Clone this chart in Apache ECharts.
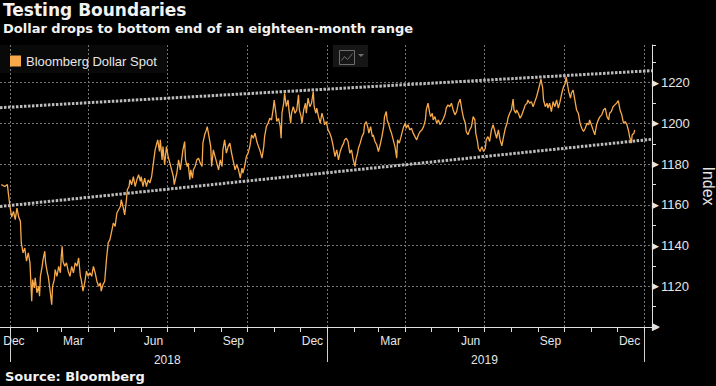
<!DOCTYPE html>
<html>
<head>
<meta charset="utf-8">
<script src="https://cdn.jsdelivr.net/npm/echarts@6/dist/echarts.min.js"></script>
<style>
html,body{margin:0;padding:0;background:#000;}
#c{width:716px;height:386px;}
</style>
</head>
<body>
<div id="c"></div>
<script>
// ---------------- data ----------------
const titleText = 'Testing Boundaries';
const subtitleText = 'Dollar drops to bottom end of an eighteen-month range';
const sourceText = 'Source: Bloomberg';
const seriesName = 'Bloomberg Dollar Spot';
const axisName = 'Index';

// observation dates, as days counted from 2018-01-01
const days = [
  -10,-6,-3,-2,0,2,4,6,8,10,
  12,13,15,17,19,21,23,25,26,28,
  29,31,33,34,35,37,38,40,41,43,
  44,46,48,49,51,52,54,56,58,59,
  60,61,63,65,67,69,71,73,75,77,
  79,81,82,84,86,88,90,92,94,96,
  98,100,102,104,105,107,109,111,113,115,
  117,119,121,123,125,127,128,130,132,134,
  135,137,138,140,142,144,146,148,150,151,
  153,155,157,159,161,163,165,167,169,170,
  172,173,175,176,178,180,182,
  184,186,188,189,191,192,194,196,198,199,
  201,202,204,205,207,208,210,211,213,215,
  217,219,221,222,224,226,227,229,231,232,
  234,236,238,240,242,244,245,247,249,251,
  253,255,257,259,261,263,265,267,268,270,
  272,274,276,278,280,282,284,286,288,290,
  292,293,295,297,299,301,303,304,306,307,
  309,311,312,313,315,316,318,320,321,323,
  324,326,328,330,332,333,335,336,338,340,
  341,343,345,347,349,350,352,353,355,357,
  359,361,362,364,366,368,370,
  372,374,376,378,380,382,384,385,387,389,
  391,393,395,397,398,400,401,403,405,407,
  408,410,412,413,415,417,418,420,422,424,
  426,428,430,431,433,434,436,437,439,441,
  443,445,446,448,450,451,453,455,456,458,
  460,462,464,466,468,470,472,474,476,478,
  479,481,483,484,486,487,489,491,493,495,
  497,499,501,502,504,506,508,510,512,514,
  516,518,520,522,524,525,527,529,531,533,
  535,536,538,539,541,543,545,547,548,550,
  552,554,556,
  558,560,562,564,566,568,570,572,573,575,
  577,579,580,582,583,585,587,589,591,593,
  595,596,598,600,602,604,606,608,610,611,
  613,614,616,618,619,621,623,625,627,629,
  631,633,635,637,639,640,642,643,645,646,
  648,650,652,654,656,658,660,662,664,666,
  667,669,671,673,675,677,679,681,683,685,
  687,689,690,692,694,696,698,700,702,704,
  706,708,710,712,713,715,716,718,719
];
// Bloomberg Dollar Spot Index level at each date
const values = [
  1169.9,1169.0,1170.0,1166.0,1159.0,1154.0,1156.8,1152.7,1158.4,1154.0,
  1151.9,1141.3,1136.4,1138.8,1132.3,1136.4,1131.5,1112.6,1123.3,1119.2,
  1124.1,1116.8,1120.0,1115.1,1124.9,1129.8,1133.1,1137.2,1131.5,1126.6,
  1124.9,1118.4,1111.0,1120.0,1123.3,1128.2,1124.9,1129.8,1126.6,1134.7,
  1139.6,1132.3,1129.8,1131.5,1127.4,1124.9,1129.8,1126.6,1131.5,1129.8,
  1133.9,1124.9,1123.3,1117.6,1121.7,1127.4,1124.9,1126.6,1124.9,1129.8,
  1126.6,1122.5,1120.0,1121.7,1117.6,1120.8,1122.5,1133.1,1141.3,1142.9,
  1147.0,1151.1,1149.4,1156.0,1157.6,1159.2,1162.5,1159.2,1155.1,1162.5,
  1167.4,1169.0,1172.3,1169.9,1173.9,1169.0,1172.3,1174.8,1171.5,1173.9,
  1169.0,1173.1,1169.0,1172.3,1170.7,1173.9,1180.5,1187.0,1190.3,1191.9,
  1186.2,1191.9,1182.1,1188.6,1179.7,1188.6,1183.7,
  1180.5,1177.2,1173.9,1169.9,1173.9,1175.6,1182.1,1177.2,1183.7,1187.0,
  1191.1,1182.1,1178.8,1180.5,1172.3,1177.2,1173.1,1177.2,1178.8,1182.1,
  1182.9,1180.5,1178.8,1190.3,1194.4,1196.8,1198.4,1193.5,1188.6,1178.8,
  1187.0,1183.7,1180.5,1177.2,1182.1,1178.8,1187.0,1191.9,1185.4,1188.6,
  1190.3,1185.4,1181.3,1177.2,1179.7,1177.2,1173.1,1178.0,1175.6,1178.8,
  1183.7,1185.4,1188.6,1194.4,1192.7,1195.2,1191.1,1188.6,1186.2,1182.9,
  1188.6,1193.5,1198.4,1200.1,1202.5,1201.7,1207.5,1211.5,1205.0,1200.9,
  1202.5,1198.4,1192.7,1205.0,1209.9,1214.8,1208.2,1211.5,1206.6,1200.1,
  1205.0,1208.2,1205.0,1206.6,1214.0,1206.6,1203.3,1200.1,1206.6,1209.9,
  1205.0,1212.4,1208.2,1209.9,1215.6,1208.2,1205.0,1207.5,1203.3,1200.1,
  1205.0,1201.7,1199.3,1200.9,1196.8,1195.2,1192.7,
  1188.6,1183.7,1187.0,1182.1,1186.2,1188.6,1190.3,1191.9,1192.7,1191.1,
  1185.4,1187.0,1182.1,1178.8,1182.1,1185.4,1187.8,1190.3,1193.5,1195.2,
  1199.3,1200.9,1197.6,1195.2,1198.4,1193.5,1194.4,1191.1,1189.5,1186.2,
  1189.5,1193.5,1198.4,1203.3,1205.8,1201.7,1199.3,1197.6,1195.2,1191.9,
  1188.6,1182.9,1191.9,1190.3,1193.5,1195.2,1198.4,1200.1,1197.6,1199.3,
  1196.8,1197.6,1195.2,1193.5,1191.9,1194.4,1196.0,1196.8,1198.4,1201.7,
  1206.6,1209.9,1205.0,1203.3,1205.0,1201.7,1203.3,1200.1,1201.7,1199.3,
  1200.9,1202.5,1205.0,1207.5,1209.1,1208.2,1209.9,1206.6,1204.2,1205.8,
  1209.9,1211.9,1206.6,1202.5,1200.1,1196.0,1194.4,1196.8,1198.4,1203.3,
  1201.7,1195.2,1191.1,1187.8,1186.2,1188.6,1186.2,1187.8,1191.9,1193.5,
  1191.1,1196.8,1199.3,
  1196.0,1192.7,1196.8,1191.9,1189.0,1193.5,1197.6,1200.1,1202.5,1205.0,
  1206.6,1211.9,1206.6,1205.0,1206.6,1205.0,1202.5,1204.2,1206.6,1209.1,
  1209.9,1211.5,1209.9,1210.7,1208.2,1210.7,1213.1,1216.4,1219.7,1221.7,
  1217.3,1211.5,1208.2,1209.9,1207.5,1209.9,1205.8,1210.7,1208.2,1211.5,
  1207.5,1210.7,1214.8,1218.0,1219.7,1222.9,1218.0,1215.6,1212.4,1214.8,
  1216.4,1211.5,1206.6,1205.0,1200.1,1197.6,1196.0,1197.6,1200.1,1199.3,
  1201.7,1199.3,1196.8,1194.4,1199.3,1201.7,1203.3,1204.2,1206.6,1207.5,
  1203.3,1201.7,1205.0,1205.8,1208.2,1209.1,1209.9,1211.2,1206.6,1204.2,
  1200.1,1200.9,1199.3,1196.0,1193.5,1190.3,1194.4,1195.2,1196.8
];

// range boundaries drawn on the chart: [day, level] at both ends
const upperBoundary = [[-11.5, 1207.7], [738.8, 1225.9]];
const lowerBoundary = [[-11.5, 1159.2], [738.8, 1192.2]];

// axis definitions
const xRange = [-11.5, 738.8];          // days from 2018-01-01
const yRange = [1100, 1238.5];
const yLabelValues = [1120, 1140, 1160, 1180, 1200, 1220];
const monthLabels = [[2017, 11, 'Dec'], [2018, 2, 'Mar'], [2018, 5, 'Jun'], [2018, 8, 'Sep'],
                     [2018, 11, 'Dec'], [2019, 2, 'Mar'], [2019, 5, 'Jun'], [2019, 8, 'Sep'], [2019, 11, 'Dec']];
const yearLabels = [2018, 2019];

// ---------------- helpers ----------------
const BASE = Date.UTC(2018, 0, 1);
const dayOf = (y, m, d) => (Date.UTC(y, m, d) - BASE) / 864e5;
const key = v => Math.round(v * 10);

const monthTicks = [];
for (let y = 2018; y <= 2019; y++) for (let m = 0; m < 12; m++) monthTicks.push(dayOf(y, m, 1));
monthTicks.push(dayOf(2020, 0, 1));
const quarterStarts = monthTicks.filter((d, i) => i % 3 === 0);

const monthLabelMap = new Map();
const monthLabelPos = monthLabels.map(([y, m, t]) => {
  const p = Math.max(dayOf(y, m, 15), xRange[0] + 16); // first label is clamped inside the axis
  monthLabelMap.set(key(p), t);
  return p;
});
const yearTicks = [dayOf(2018, 0, 1), dayOf(2019, 0, 1), dayOf(2020, 0, 1)];
const yearLabelMap = new Map();
const yearLabelPos = yearLabels.map(y => {
  const p = dayOf(y, 6, 1);
  yearLabelMap.set(key(p), String(y));
  return p;
});

const TXT = '#e6e6e6';
const GRID = '#767676';
const ORANGE = '#f8a94a';
const FONT = 'Liberation Sans, Arial, sans-serif';
const BOLD = 'DejaVu Sans, Verdana, sans-serif';

const chart = echarts.init(document.getElementById('c'), null, { renderer: 'svg' });

chart.setOption({
  backgroundColor: '#000',
  animation: false,
  title: [
    { text: titleText, left: 3, top: 1, padding: 0,
      textStyle: { color: '#f2f2f2', fontFamily: BOLD, fontWeight: 'bold', fontSize: 17 } },
    { text: subtitleText, left: 3, top: 22, padding: 0,
      textStyle: { color: '#f2f2f2', fontFamily: BOLD, fontWeight: 'bold', fontSize: 13 } },
    { text: sourceText, left: 5, top: 369.5, padding: 0,
      textStyle: { color: '#f2f2f2', fontFamily: BOLD, fontWeight: 'bold', fontSize: 13 } }
  ],
  legend: {
    data: [seriesName], left: 10, top: 54.5, padding: 0,
    icon: 'rect', itemWidth: 11, itemHeight: 11, itemGap: 10,
    textStyle: { color: TXT, fontFamily: FONT, fontSize: 13 },
    selectedMode: false
  },
  grid: { left: 0, right: 64, top: 45, bottom: 59, containLabel: false, outerBoundsMode: 'none' },
  xAxis: [
    {
      type: 'value', min: xRange[0], max: xRange[1], position: 'bottom',
      axisLine: { show: true, onZero: false, symbol: ['none', 'triangle'], symbolSize: [8, 8], symbolOffset: [0, 4],
        lineStyle: { color: '#e0e0e0', width: 1 } },
      axisTick: { show: true, customValues: monthTicks, length: 5, lineStyle: { color: '#e0e0e0' } },
      axisLabel: { show: true, customValues: monthLabelPos, margin: 8, color: TXT, fontFamily: FONT, fontSize: 12,
        hideOverlap: false, showMinLabel: true, showMaxLabel: true,
        formatter: v => monthLabelMap.get(key(v)) || '' },
      splitLine: { show: false }
    },
    {
      type: 'value', min: xRange[0], max: xRange[1], position: 'bottom', offset: 5,
      axisLine: { show: false, onZero: false },
      axisTick: { show: true, customValues: yearTicks, length: 30, lineStyle: { color: '#cfcfcf' } },
      axisLabel: { show: true, customValues: yearLabelPos, margin: 22, color: TXT, fontFamily: FONT, fontSize: 12,
        hideOverlap: false, showMinLabel: true, showMaxLabel: true,
        formatter: v => yearLabelMap.get(key(v)) || '' },
      splitLine: { show: false }
    }
  ],
  yAxis: [
    {
      type: 'value', position: 'right', min: yRange[0], max: yRange[1], interval: 10,
      axisLine: { show: true, onZero: false, lineStyle: { color: '#e0e0e0', width: 1 } },
      axisTick: { show: true, length: 4, lineStyle: { color: '#e0e0e0' } },
      axisLabel: {
        show: true, margin: 0, hideOverlap: false, showMinLabel: true, showMaxLabel: true,
        formatter: v => {
          if (yLabelValues.indexOf(v) >= 0) return '{tri|\u25B6}{num|' + v + '}';
          if (v === yRange[0]) return '{tri|\u25B6}';
          return '';
        },
        rich: {
          tri: { fontSize: 9, color: '#e6e6e6', fontFamily: 'DejaVu Sans' },
          num: { fontSize: 13, color: TXT, fontFamily: FONT, padding: [0, 0, 0, 2] }
        }
      },
      splitLine: { show: false },
      name: axisName, nameLocation: 'middle', nameRotate: -90, nameGap: 42,
      nameTextStyle: { color: TXT, fontFamily: FONT, fontSize: 16 }
    },
    {
      type: 'value', position: 'right', min: yRange[0], max: yRange[1], interval: 20,
      axisLine: { show: false }, axisTick: { show: false }, axisLabel: { show: false },
      splitLine: { show: true, showMinLine: false, showMaxLine: false,
        lineStyle: { color: GRID, type: [2, 2], width: 1 } }
    }
  ],
  graphic: [
    { type: 'rect', left: 0, top: 45, shape: { width: 167, height: 28 }, style: { fill: 'rgba(255,255,255,0.035)' }, z: -1, silent: true },
    { type: 'rect', left: 333, top: 45, shape: { width: 35, height: 22 }, style: { fill: '#161616' }, silent: true },
    { type: 'rect', left: 337, top: 48, shape: { width: 15, height: 14 }, style: { fill: 'none', stroke: '#6e6e6e', lineWidth: 1 }, silent: true },
    { type: 'polyline', left: 339, top: 51, shape: { points: [[0, 7], [3, 3], [6, 6], [11, 0]] }, style: { fill: 'none', stroke: '#6e6e6e', lineWidth: 1 }, silent: true },
    { type: 'polygon', left: 358, top: 54, shape: { points: [[0, 0], [6, 0], [3, 3]] }, style: { fill: '#6e6e6e' }, silent: true }
  ],
  series: [
    {
      // vertical dashed grid lines at quarter starts, positioned by the x axis scale
      name: 'quarterGrid', type: 'custom', silent: true, z: 1, clip: false,
      data: quarterStarts.map(d => [d, yRange[0]]),
      encode: { x: 0, y: 1 },
      renderItem: (params, api) => {
        const top = api.coord([api.value(0), yRange[1]]);
        const bottom = api.coord([api.value(0), yRange[0]]);
        const x = Math.round(top[0]) + 0.5;
        return {
          type: 'line', silent: true,
          shape: { x1: x, y1: top[1], x2: x, y2: bottom[1] },
          style: { stroke: GRID, lineWidth: 1, lineDash: [2, 2] }
        };
      }
    },
    {
      name: 'upper', type: 'line', data: upperBoundary, showSymbol: false, symbol: 'none', silent: true, z: 2,
      lineStyle: { color: '#bcbcbc', width: 3, type: [2.5, 1.5] }
    },
    {
      name: 'lower', type: 'line', data: lowerBoundary, showSymbol: false, symbol: 'none', silent: true, z: 2,
      lineStyle: { color: '#bcbcbc', width: 3, type: [2.5, 1.5] }
    },
    {
      name: seriesName, type: 'line', z: 3,
      data: days.map((d, i) => [d, values[i]]),
      showSymbol: false, symbol: 'none',
      itemStyle: { color: ORANGE },
      lineStyle: { color: ORANGE, width: 1.3 }
    }
  ]
});
</script>
</body>
</html>
